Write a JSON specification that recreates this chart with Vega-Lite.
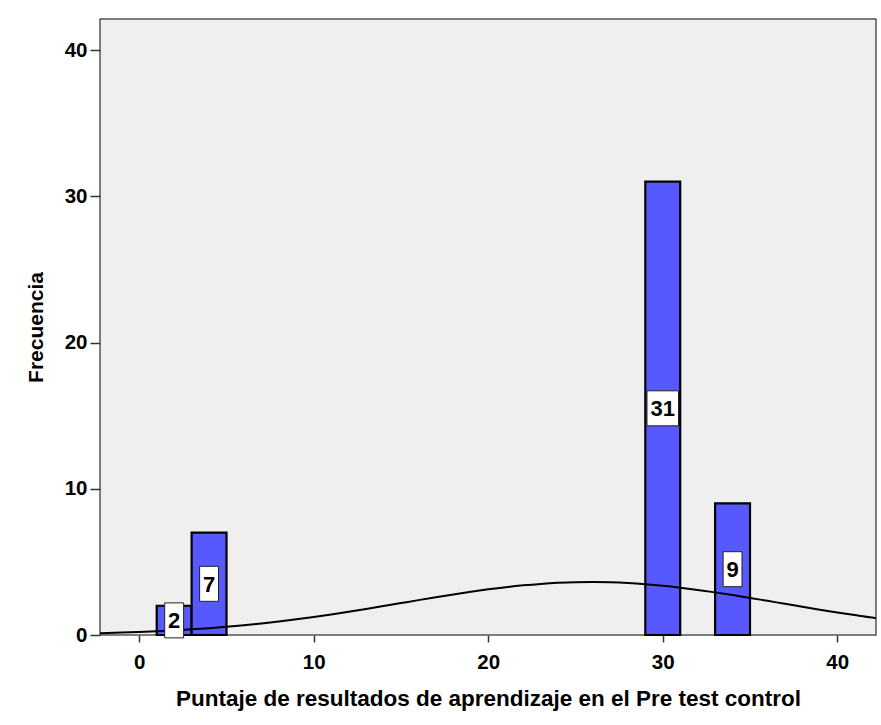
{
  "$schema": "https://vega.github.io/schema/vega-lite/v6.json",
  "width": 776,
  "height": 616,
  "autosize": {"type": "none"},
  "padding": {"left": 100, "top": 19, "right": 5, "bottom": 90},
  "background": "white",
  "config": {
    "view": {"fill": "#efefef", "stroke": "#555555", "strokeWidth": 1.5},
    "font": "Liberation Sans",
    "axis": {"grid": false, "domain": false, "tickColor": "#333333", "labelColor": "#000000", "titleColor": "#000000", "labelFont": "Liberation Sans", "titleFont": "Liberation Sans", "labelFontWeight": "bold", "titleFontWeight": "bold"}
  },
  "datasets": {
    "bars": [
      {"bin_start": 1, "bin_end": 3, "count": 2},
      {"bin_start": 3, "bin_end": 5, "count": 7},
      {"bin_start": 29, "bin_end": 31, "count": 31},
      {"bin_start": 33, "bin_end": 35, "count": 9}
    ],
    "curve": [
      {"x": -2.25, "y": 0.124}, {"x": -1, "y": 0.165}, {"x": 0, "y": 0.206}, {"x": 1, "y": 0.256},
      {"x": 2, "y": 0.316}, {"x": 3, "y": 0.386}, {"x": 4, "y": 0.467}, {"x": 5, "y": 0.561},
      {"x": 6, "y": 0.668}, {"x": 7, "y": 0.788}, {"x": 8, "y": 0.922}, {"x": 9, "y": 1.07},
      {"x": 10, "y": 1.23}, {"x": 11, "y": 1.404}, {"x": 12, "y": 1.588}, {"x": 13, "y": 1.78},
      {"x": 14, "y": 1.98}, {"x": 15, "y": 2.182}, {"x": 16, "y": 2.385}, {"x": 17, "y": 2.584},
      {"x": 18, "y": 2.776}, {"x": 19, "y": 2.956}, {"x": 20, "y": 3.122}, {"x": 21, "y": 3.27},
      {"x": 22, "y": 3.394}, {"x": 23, "y": 3.494}, {"x": 24, "y": 3.566}, {"x": 25, "y": 3.608},
      {"x": 26, "y": 3.62}, {"x": 27, "y": 3.601}, {"x": 28, "y": 3.551}, {"x": 29, "y": 3.472},
      {"x": 30, "y": 3.367}, {"x": 31, "y": 3.236}, {"x": 32, "y": 3.084}, {"x": 33, "y": 2.914},
      {"x": 34, "y": 2.731}, {"x": 35, "y": 2.537}, {"x": 36, "y": 2.336}, {"x": 37, "y": 2.133},
      {"x": 38, "y": 1.931}, {"x": 39, "y": 1.734}, {"x": 40, "y": 1.543}, {"x": 41, "y": 1.362},
      {"x": 42, "y": 1.191}, {"x": 42.22, "y": 1.16}
    ]
  },
  "layer": [
    {
      "data": {"name": "bars"},
      "mark": {"type": "rect", "fill": "#5858ff", "stroke": "#000000", "strokeWidth": 2.2},
      "encoding": {
        "x": {"field": "bin_start", "type": "quantitative",
              "scale": {"domain": [-2.25, 42.22], "nice": false, "zero": false},
              "axis": {"values": [0, 10, 20, 30, 40], "tickSize": 7, "tickWidth": 1.5, "labelFontSize": 20.5, "labelPadding": 10,
                       "title": "Puntaje de resultados de aprendizaje en el Pre test control", "titleFontSize": 22.5, "titlePadding": 15}},
        "x2": {"field": "bin_end"},
        "y": {"field": "count", "type": "quantitative",
              "scale": {"domain": [0, 42.12], "nice": false},
              "axis": {"values": [0, 10, 20, 30, 40], "tickSize": 10, "tickWidth": 1.5, "labelFontSize": 20.5, "labelPadding": 3,
                       "title": "Frecuencia", "titleFontSize": 21, "titlePadding": 18}},
        "y2": {"datum": 0}
      }
    },
    {
      "data": {"name": "curve"},
      "mark": {"type": "line", "color": "#000000", "strokeWidth": 2, "interpolate": "monotone", "clip": true},
      "encoding": {
        "x": {"field": "x", "type": "quantitative"},
        "y": {"field": "y", "type": "quantitative"}
      }
    },
    {
      "data": {"name": "bars"},
      "transform": [
        {"calculate": "(datum.bin_start + datum.bin_end) / 2", "as": "mid_x"},
        {"calculate": "datum.count / 2", "as": "mid_y"},
        {"filter": "datum.count < 10"}
      ],
      "mark": {"type": "point", "shape": "M-0.54,-1L0.54,-1L0.54,1L-0.54,1Z", "size": 1225, "filled": true, "fill": "#ffffff", "stroke": "#222222", "strokeWidth": 1, "opacity": 1},
      "encoding": {
        "x": {"field": "mid_x", "type": "quantitative"},
        "y": {"field": "mid_y", "type": "quantitative"}
      }
    },
    {
      "data": {"name": "bars"},
      "transform": [
        {"calculate": "(datum.bin_start + datum.bin_end) / 2", "as": "mid_x"},
        {"calculate": "datum.count / 2", "as": "mid_y"},
        {"filter": "datum.count >= 10"}
      ],
      "mark": {"type": "point", "shape": "M-0.9,-1L0.9,-1L0.9,1L-0.9,1Z", "size": 1225, "filled": true, "fill": "#ffffff", "stroke": "#222222", "strokeWidth": 1, "opacity": 1},
      "encoding": {
        "x": {"field": "mid_x", "type": "quantitative"},
        "y": {"field": "mid_y", "type": "quantitative"}
      }
    },
    {
      "data": {"name": "bars"},
      "transform": [
        {"calculate": "(datum.bin_start + datum.bin_end) / 2", "as": "mid_x"},
        {"calculate": "datum.count / 2", "as": "mid_y"}
      ],
      "mark": {"type": "text", "fontSize": 22, "font": "Liberation Sans", "fontWeight": "bold", "color": "#000000", "baseline": "middle", "align": "center", "dy": 1},
      "encoding": {
        "x": {"field": "mid_x", "type": "quantitative"},
        "y": {"field": "mid_y", "type": "quantitative"},
        "text": {"field": "count", "type": "quantitative"}
      }
    }
  ]
}
